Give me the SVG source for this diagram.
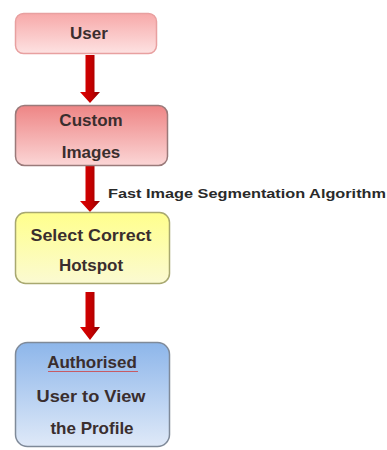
<svg xmlns="http://www.w3.org/2000/svg" width="387" height="450" viewBox="0 0 387 450">
<defs>
<linearGradient id="gUser" x1="0" y1="0" x2="0" y2="1"><stop offset="0" stop-color="#f7a9a9"/><stop offset="1" stop-color="#fde2e2"/></linearGradient>
<linearGradient id="gCustom" x1="0" y1="0" x2="0" y2="1"><stop offset="0" stop-color="#ee8585"/><stop offset="1" stop-color="#fbd6d6"/></linearGradient>
<linearGradient id="gYellow" x1="0" y1="0" x2="0" y2="1"><stop offset="0" stop-color="#ffff8c"/><stop offset="1" stop-color="#fbfad2"/></linearGradient>
<linearGradient id="gBlue" x1="0" y1="0" x2="0" y2="1"><stop offset="0" stop-color="#8db6ea"/><stop offset="1" stop-color="#dfe9f8"/></linearGradient>
<linearGradient id="gArrow" x1="0" y1="0" x2="1" y2="0"><stop offset="0" stop-color="#e00000"/><stop offset="0.6" stop-color="#c00000"/><stop offset="1" stop-color="#8a0000"/></linearGradient>
</defs>
<style>
.box{stroke-width:1.5}
.t{font-family:"Liberation Sans",Arial,sans-serif;font-weight:bold;font-size:17px;fill:#3a2e2e;text-anchor:middle}
.lbl{font-family:"Liberation Sans",Arial,sans-serif;font-weight:bold;font-size:13px;fill:#2a2a2a}
.arrow{fill:url(#gArrow)}
</style>
<g id="connectors">
<path class="arrow" d="M85.5,55 H94.5 V92 H100 L90,103 L80,92 H85.5 Z"/>
<path class="arrow" d="M85.5,166 H94.5 V201 H100 L90,212 L80,201 H85.5 Z"/>
<path class="arrow" d="M85.5,292 H94.5 V327 H100 L90,340 L80,327 H85.5 Z"/>
<text class="lbl" x="108" y="198" textLength="278" lengthAdjust="spacingAndGlyphs">Fast Image Segmentation Algorithm</text>
</g>
<g id="user">
<rect class="box" x="15.5" y="13.5" width="141" height="40" rx="8" fill="url(#gUser)" stroke="#e8a0a0"/>
<text class="t" x="89" y="39">User</text>
</g>
<g id="custom">
<rect class="box" x="15.5" y="105.5" width="152" height="60" rx="9" fill="url(#gCustom)" stroke="#9a7a7a"/>
<text class="t" x="91" y="126">Custom</text>
<text class="t" x="91" y="158">Images</text>
</g>
<g id="hotspot">
<rect class="box" x="15.5" y="212.5" width="154" height="71" rx="10" fill="url(#gYellow)" stroke="#a8a870"/>
<text class="t" x="91" y="241" textLength="121" lengthAdjust="spacingAndGlyphs">Select Correct</text>
<text class="t" x="91" y="271">Hotspot</text>
</g>
<g id="authorised">
<rect class="box" x="15.5" y="342.5" width="154" height="104" rx="12" fill="url(#gBlue)" stroke="#7f8a99"/>
<text class="t" x="92" y="368">Authorised</text>
<path d="M48,371.5 H138" fill="none" stroke="#d04040" stroke-width="0.8"/>
<text class="t" x="91" y="402" textLength="109" lengthAdjust="spacingAndGlyphs">User to View</text>
<text class="t" x="92" y="434">the Profile</text>
</g>
</svg>
